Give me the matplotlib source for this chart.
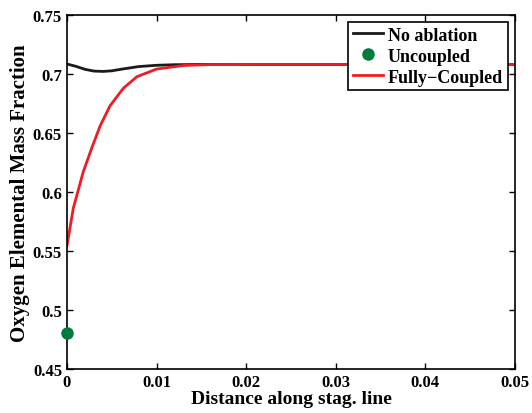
import numpy as np
import matplotlib
matplotlib.use("Agg")
import matplotlib.pyplot as plt

plt.rcParams['font.family'] = ['Liberation Serif', 'DejaVu Serif']
plt.rcParams['font.weight'] = 'bold'

# Dane
x_noabl = [0.0, 0.001, 0.002, 0.003, 0.004, 0.005, 0.006, 0.008, 0.010, 0.012, 0.015, 0.02, 0.03, 0.04, 0.05]
y_noabl = [0.7085, 0.7065, 0.7040, 0.7025, 0.7022, 0.7027, 0.7040, 0.7063, 0.7074, 0.7079, 0.7081, 0.7081, 0.7081, 0.7081, 0.7081]

x_coupled = [0.0, 0.0007, 0.0018, 0.0028, 0.0037, 0.0048, 0.0063, 0.0078, 0.010, 0.013, 0.016, 0.02, 0.03, 0.04, 0.05]
y_coupled = [0.5545, 0.586, 0.6167, 0.638, 0.656, 0.673, 0.688, 0.6977, 0.7042, 0.7072, 0.7080, 0.7081, 0.7081, 0.7081, 0.7081]

x_uncoupled = [0.0]
y_uncoupled = [0.4805]

fig = plt.figure(figsize=(5.32, 4.14), dpi=100)
ax = fig.add_axes([0.1259, 0.1063, 0.842, 0.855])

ax.plot(x_noabl, y_noabl, color='#1a1a1a', lw=2, label='No ablation')
ax.plot(x_uncoupled, y_uncoupled, 'o', color='#007a3d', markersize=8, label='Uncoupled', clip_on=False, zorder=5)
ax.plot(x_coupled, y_coupled, color='#ee1c25', lw=2, label='Fully\u2212Coupled')

ax.set_xlim(0, 0.05)
ax.set_ylim(0.45, 0.75)
ax.set_xticks([0, 0.01, 0.02, 0.03, 0.04, 0.05])
ax.set_xticklabels(['0', '0.01', '0.02', '0.03', '0.04', '0.05'])
ax.set_yticks([0.45, 0.5, 0.55, 0.6, 0.65, 0.7, 0.75])
ax.set_yticklabels(['0.45', '0.5', '0.55', '0.6', '0.65', '0.7', '0.75'])
ax.tick_params(direction='in', top=True, right=True, labelsize=12, width=1, length=4)
for s in ax.spines.values():
    s.set_linewidth(1.2)

ax.set_xlabel('Distance along stag. line', fontsize=14, fontweight='bold', labelpad=0)
ax.set_ylabel('Oxygen Elemental Mass Fraction', fontsize=15, fontweight='bold', labelpad=2)

leg = ax.legend(loc='upper right', fontsize=13, fancybox=False, edgecolor='black',
                framealpha=1, borderaxespad=0.4, handlelength=1.65, handletextpad=0.3,
                labelspacing=0.22, borderpad=0.25)
leg.get_frame().set_linewidth(1.2)

fig.savefig('out.png', dpi=100)
